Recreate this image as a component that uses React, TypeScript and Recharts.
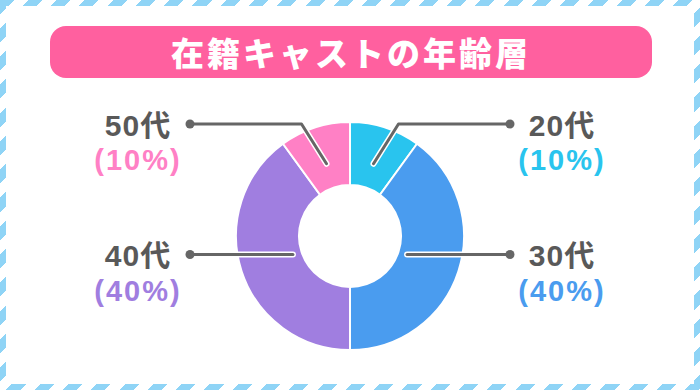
import React from "react";
import { PieChart, Pie, Cell } from "recharts";

// ---------------------------------------------------------------------------
// Data
// ---------------------------------------------------------------------------

const TITLE = "在籍キャストの年齢層";
const AGE_GROUPS = ["20代", "30代", "40代", "50代"];
const SHARES = [10, 40, 40, 10];
const SLICE_COLORS = ["#29c4ee", "#4a9cef", "#a07ee0", "#ff80c5"];

const chartData = AGE_GROUPS.map((name, i) => ({
  name,
  value: SHARES[i],
  color: SLICE_COLORS[i],
}));

const FONT = '"Noto Sans CJK JP", "Noto Sans", sans-serif';
const LABEL_FONT = '"Liberation Sans", "Noto Sans CJK JP", sans-serif';
const LINE_COLOR = "#666666";
const LABEL_COLOR = "#595959";

const RADIAN = Math.PI / 180;

// leader line + two-line label, positioned from the slice geometry
function SliceLabel(props: any) {
  const { cx, cy, midAngle, payload } = props;
  const cos = Math.cos(-midAngle * RADIAN);
  const sin = Math.sin(-midAngle * RADIAN);
  const side = cos >= 0 ? 1 : -1;
  const isTop = sin < -0.7;

  let points: [number, number][];
  let dotY: number;
  if (isTop) {
    const sx = cx + 76 * cos;
    const sy = cy + 76 * sin;
    dotY = cy - 112;
    const ex = sx + side * 25;
    points = [
      [sx, sy],
      [ex, dotY],
      [cx + side * 160, dotY],
    ];
  } else {
    const sx = cx + 60 * cos;
    const sy = cy + 60 * sin;
    dotY = sy;
    points = [
      [sx, sy],
      [cx + side * 160, dotY],
    ];
  }
  const d = points.map((p, i) => `${i === 0 ? "M" : "L"}${p[0]},${p[1]}`).join(" ");
  const dotX = cx + side * 160;
  const textX = cx + side * 212;

  return (
    <g>
      <path d={d} fill="none" stroke="#ffffff" strokeWidth={6} strokeLinecap="round" strokeLinejoin="round" />
      <path d={d} fill="none" stroke={LINE_COLOR} strokeWidth={3} strokeLinecap="round" strokeLinejoin="round" />
      <circle cx={dotX} cy={dotY} r={4.5} fill={LINE_COLOR} />
      <text
        x={textX}
        y={dotY + 1}
        textAnchor="middle"
        dominantBaseline="central"
        fontFamily={LABEL_FONT}
        fontWeight={700}
        fontSize={30}
        fill={LABEL_COLOR}
        letterSpacing={1}
      >
        {payload.name}
      </text>
      <text
        x={textX}
        y={dotY + 36}
        textAnchor="middle"
        dominantBaseline="central"
        fontFamily={LABEL_FONT}
        fontWeight={700}
        fontSize={29}
        fill={payload.color}
        letterSpacing={2}
      >
        {`(${payload.value}%)`}
      </text>
    </g>
  );
}

export default function App() {
  return (
    <div
      style={{
        position: "relative",
        width: 700,
        height: 390,
        background: "repeating-linear-gradient(135deg, #8fd4f6 0 10px, #ffffff 10px 20px)",
      }}
    >
      <style>{"body{margin:0}"}</style>
      <div
        style={{
          position: "absolute",
          left: 6,
          top: 6,
          right: 6,
          bottom: 6,
          background: "#ffffff",
        }}
      />
      <div
        style={{
          position: "absolute",
          left: 50,
          top: 26,
          width: 602,
          height: 52,
          borderRadius: 16,
          background: "#ff609f",
          color: "#ffffff",
          fontFamily: FONT,
          fontWeight: 900,
          fontSize: 33,
          letterSpacing: 3,
          display: "flex",
          alignItems: "center",
          justifyContent: "center",
        }}
      >
        {TITLE}
      </div>
      <div style={{ position: "absolute", left: 0, top: 0 }}>
        <PieChart width={700} height={390} margin={{ top: 0, right: 0, bottom: 0, left: 0 }}>
          <Pie
            data={chartData}
            dataKey="value"
            nameKey="name"
            cx={350}
            cy={236}
            innerRadius={51}
            outerRadius={114}
            startAngle={90}
            endAngle={-270}
            stroke="#ffffff"
            strokeWidth={2}
            label={SliceLabel}
            labelLine={false}
            isAnimationActive={false}
          >
            {chartData.map((entry, index) => (
              <Cell key={`cell-${index}`} fill={entry.color} />
            ))}
          </Pie>
        </PieChart>
      </div>
    </div>
  );
}
